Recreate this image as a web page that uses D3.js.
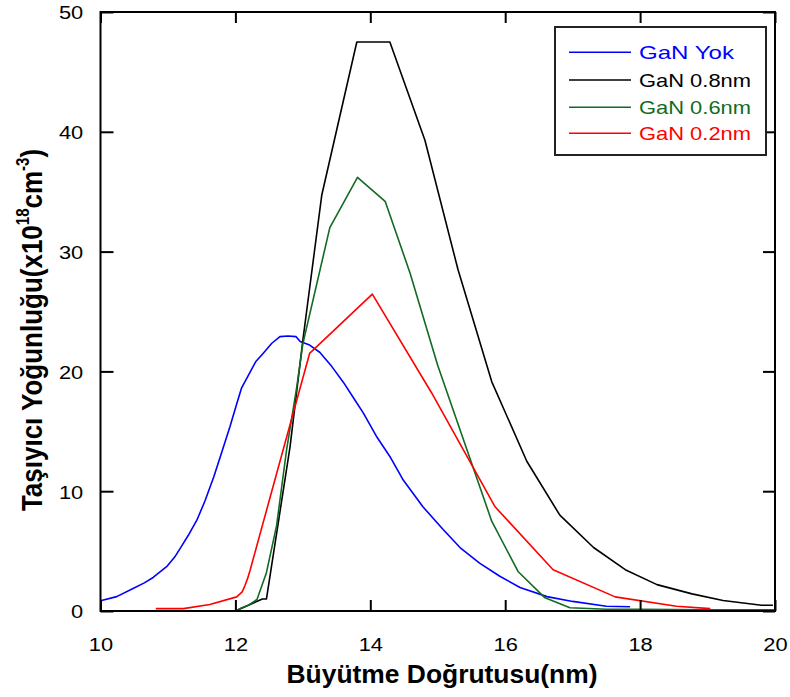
<!DOCTYPE html>
<html>
<head>
<meta charset="utf-8">
<script src="https://cdn.jsdelivr.net/npm/d3@7"></script>
<style>
  html, body { margin: 0; padding: 0; background: #fff; }
  svg { display: block; }
  text { font-family: "Liberation Sans", Arial, sans-serif; }
</style>
</head>
<body>
<svg id="chart" width="790" height="697"></svg>
<script>
// ---- data ----
const xTicks = [10, 12, 14, 16, 18, 20];
const yTicks = [0, 10, 20, 30, 40, 50];

const seriesNames = ["GaN Yok", "GaN 0.8nm", "GaN 0.6nm", "GaN 0.2nm"];
const seriesColors = ["#0000ff", "#000000", "#116b22", "#ff0000"];

const blueX = [10.0, 10.24, 10.49, 10.65, 10.78, 10.98, 11.1, 11.2, 11.3, 11.43, 11.55, 11.68, 11.8, 11.92, 12.02, 12.09, 12.21, 12.3, 12.41, 12.54, 12.66, 12.78, 12.9, 12.96, 13.1, 13.25, 13.43, 13.6, 13.75, 13.9, 14.1, 14.29, 14.48, 14.78, 15.08, 15.33, 15.62, 15.92, 16.22, 16.62, 17.0, 17.5, 17.85];
const blueY = [0.85, 1.2, 1.9, 2.35, 2.8, 3.7, 4.5, 5.4, 6.3, 7.6, 9.2, 11.2, 13.3, 15.4, 17.3, 18.6, 19.85, 20.8, 21.5, 22.35, 22.9, 22.95, 22.9, 22.5, 22.2, 21.6, 20.4, 19.1, 17.8, 16.5, 14.5, 12.9, 11.0, 8.7, 6.8, 5.3, 4.0, 2.9, 1.96, 1.2, 0.8, 0.4, 0.35];

const blackX = [12.0, 12.4, 12.46, 12.81, 13.0, 13.28, 13.8, 14.29, 14.81, 15.3, 15.8, 16.32, 16.81, 17.31, 17.78, 18.25, 18.77, 19.23, 19.8, 19.97];
const blackY = [0.0, 1.0, 1.0, 13.7, 22.6, 34.7, 47.5, 47.5, 39.3, 28.5, 19.15, 12.5, 8.0, 5.3, 3.45, 2.2, 1.43, 0.87, 0.48, 0.48];

const greenX = [12.0, 12.07, 12.2, 12.32, 12.46, 12.61, 12.76, 12.91, 13.0, 13.4, 13.81, 14.22, 14.59, 15.0, 15.8, 16.19, 16.59, 16.96, 17.5, 18.0, 19.0, 20.0];
const greenY = [0.0, 0.2, 0.5, 0.96, 3.2, 7.1, 13.5, 18.7, 22.3, 32.0, 36.2, 34.2, 28.2, 20.5, 7.5, 3.3, 1.1, 0.27, 0.15, 0.15, 0.1, 0.1];

const redX = [10.82, 11.23, 11.62, 12.02, 12.1, 12.14, 12.18, 12.22, 13.1, 14.03, 14.91, 15.85, 16.71, 17.63, 18.54, 19.04];
const redY = [0.2, 0.2, 0.54, 1.18, 1.6, 2.1, 2.7, 3.45, 21.5, 26.45, 18.2, 8.7, 3.45, 1.18, 0.4, 0.2];

const seriesX = [blueX, blackX, greenX, redX];
const seriesY = [blueY, blackY, greenY, redY];

// ---- layout ----
const svg = d3.select("#chart");
const L = 100.5, R = 775, T = 12, B = 611;
const x = d3.scaleLinear().domain([10, 20]).range([L, R]);
const y = d3.scaleLinear().domain([0, 50]).range([B, T]);

svg.append("rect").attr("width", 790).attr("height", 697).attr("fill", "#fff");

// lines
const line = d3.line().x(d => x(d[0])).y(d => y(d[1]));
seriesX.forEach((xs, i) => {
  const pts = xs.map((v, j) => [v, seriesY[i][j]]);
  svg.append("path")
    .datum(pts)
    .attr("fill", "none")
    .attr("stroke", seriesColors[i])
    .attr("stroke-width", 1.6)
    .attr("stroke-linejoin", "round")
    .attr("d", line);
});

// axes
const fs = 19;
const gx = svg.append("g").attr("transform", `translate(0,${B})`)
  .call(d3.axisBottom(x).tickValues(xTicks).tickSizeInner(-11).tickSizeOuter(0).tickFormat(d3.format("d")));
gx.selectAll("text").attr("y", 40).attr("dy", null)
  .attr("font-size", fs).attr("fill", "#000")
  .attr("transform", "scale(1.15,1)");

const gxt = svg.append("g").attr("transform", `translate(0,${T})`)
  .call(d3.axisTop(x).tickValues(xTicks).tickSizeInner(-11).tickSizeOuter(0).tickFormat(""));

const gy = svg.append("g").attr("transform", `translate(${L},0)`)
  .call(d3.axisLeft(y).tickValues(yTicks).tickSizeInner(-13).tickSizeOuter(0).tickFormat(d3.format("d")));
gy.selectAll("text").attr("x", -15).attr("dy", "0.36em")
  .attr("font-size", fs).attr("fill", "#000")
  .attr("transform", "scale(1.15,1)");

const gyr = svg.append("g").attr("transform", `translate(${R},0)`)
  .call(d3.axisRight(y).tickValues(yTicks).tickSizeInner(-12).tickSizeOuter(0).tickFormat(""));

[gx, gxt, gy, gyr].forEach(g => {
  g.select(".domain").remove();
  g.selectAll(".tick line").attr("stroke", "#000").attr("stroke-width", 2);
});

// frame
svg.append("rect")
  .attr("x", L).attr("y", T).attr("width", R - L).attr("height", B - T)
  .attr("fill", "none").attr("stroke", "#000").attr("stroke-width", 2);

// axis titles
svg.append("text")
  .attr("x", 442).attr("y", 683)
  .attr("text-anchor", "middle")
  .attr("font-size", 25).attr("font-weight", "bold")
  .attr("textLength", 311).attr("lengthAdjust", "spacingAndGlyphs")
  .text("Büyütme Doğrutusu(nm)");

const yt = svg.append("text")
  .attr("transform", "translate(42,330) rotate(-90) scale(1,1.17)")
  .attr("text-anchor", "middle")
  .attr("font-size", 26).attr("font-weight", "bold");
yt.append("tspan").text("Taşıyıcı Yoğunluğu(x10");
yt.append("tspan").attr("font-size", 15).attr("dy", -11).text("18");
yt.append("tspan").attr("dy", 11).text("cm");
yt.append("tspan").attr("font-size", 15).attr("dy", -11).text("-3");
yt.append("tspan").attr("dy", 11).text(")");

// legend
const lg = svg.append("g");
lg.append("rect").attr("x", 555).attr("y", 27).attr("width", 211).attr("height", 128)
  .attr("fill", "#fff").attr("stroke", "#222").attr("stroke-width", 2);
const rowY = [52.3, 80, 107.3, 133.3];
const textLens = [95, 112, 112, 112];
seriesNames.forEach((n, i) => {
  lg.append("line").attr("x1", 569).attr("x2", 631).attr("y1", rowY[i]).attr("y2", rowY[i])
    .attr("stroke", seriesColors[i]).attr("stroke-width", 1.6);
  lg.append("text").attr("x", 639).attr("y", rowY[i] + 7)
    .attr("font-size", 19).attr("fill", seriesColors[i])
    .attr("textLength", textLens[i]).attr("lengthAdjust", "spacingAndGlyphs")
    .text(n);
});
</script>
</body>
</html>
